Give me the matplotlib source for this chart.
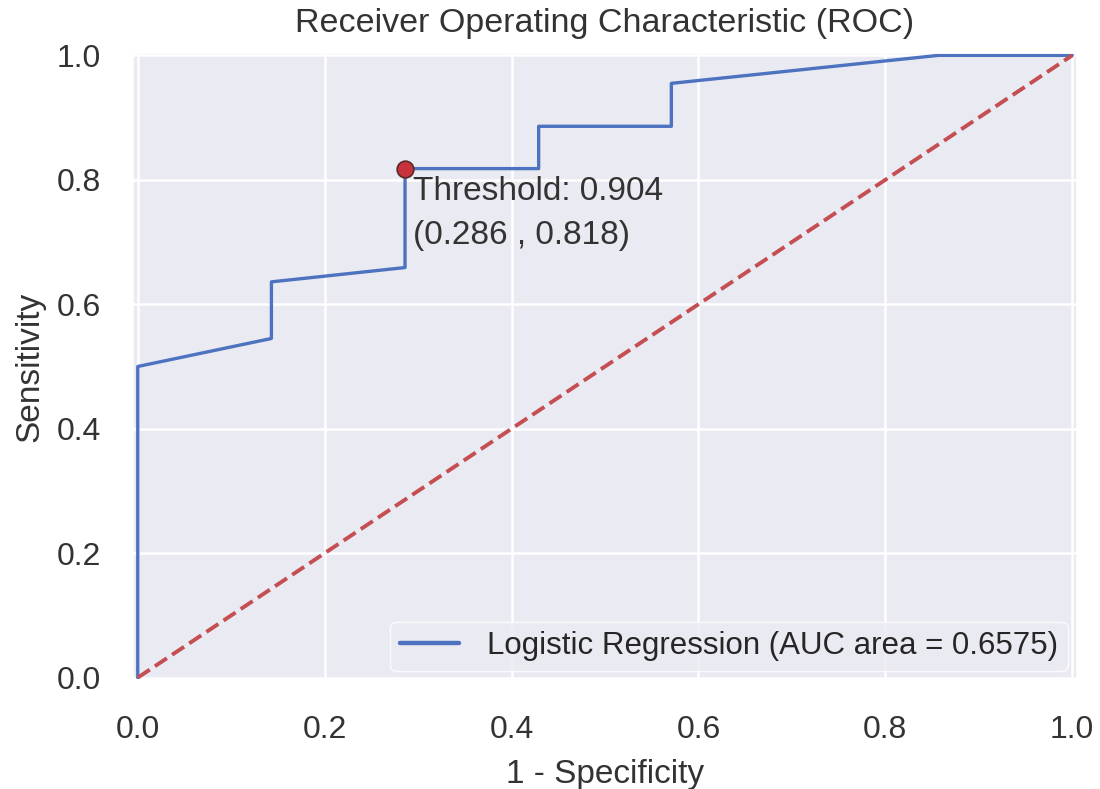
import numpy as np
import matplotlib
matplotlib.use("Agg")
import matplotlib.pyplot as plt
import seaborn as sns

# ROC curve points
fpr = [0.0, 0.0, 0.143, 0.143, 0.286, 0.286, 0.429, 0.429, 0.571, 0.571, 0.857, 1.0]
tpr = [0.0, 0.5, 0.545, 0.636, 0.659, 0.818, 0.818, 0.886, 0.886, 0.955, 1.0, 1.0]
diag = [0.0, 1.0]
best = (0.286, 0.818)
threshold = 0.904
auc_label = "Logistic Regression (AUC area = 0.6575)"

sns.set_theme(style="darkgrid", color_codes=True)
plt.rcParams['font.family'] = ['Liberation Sans', 'DejaVu Sans']

fig, ax = plt.subplots(figsize=(11, 7.89), dpi=100)
fig.subplots_adjust(left=0.121, right=0.979, top=0.933, bottom=0.138)

ax.plot(fpr, tpr, color="#4C72C0", lw=2.4, label=auc_label)
ax.plot(diag, diag, "r--", lw=2.8)
ax.plot(best[0], best[1], "o", color="#C8323C", mec="#5a2a2a", ms=12, mew=1.2)
ax.text(best[0] + 0.008, best[1] - 0.012,
        "Threshold: %.3f\n(%.3f , %.3f)" % (threshold, best[0], best[1]),
        va="top", ha="left", fontsize=24, color="#333333", linespacing=1.55)

ax.set_xlim(-0.005, 1.005)
ax.set_ylim(-0.004, 1.004)
ax.set_xticks(np.arange(0, 1.01, 0.2))
ax.set_yticks(np.arange(0, 1.01, 0.2))
ax.grid(linewidth=1.8)
ax.tick_params(labelsize=23, labelcolor="#333333")
ax.tick_params(axis="x", pad=19)
ax.tick_params(axis="y", pad=17)
ax.set_title("Receiver Operating Characteristic (ROC)", fontsize=24.5, color="#333333", pad=15)
ax.set_xlabel("1 - Specificity", fontsize=24, color="#333333", labelpad=10)
ax.set_ylabel("Sensitivity", fontsize=24, color="#333333", labelpad=8)
leg = ax.legend(loc="lower right", fontsize=22.5, handlelength=1.9, handletextpad=0.9,
                borderpad=0.3, borderaxespad=0.3)
leg.get_frame().set_edgecolor("white")
leg.get_lines()[0].set_linewidth(3.2)

fig.savefig("out.png", dpi=100)
